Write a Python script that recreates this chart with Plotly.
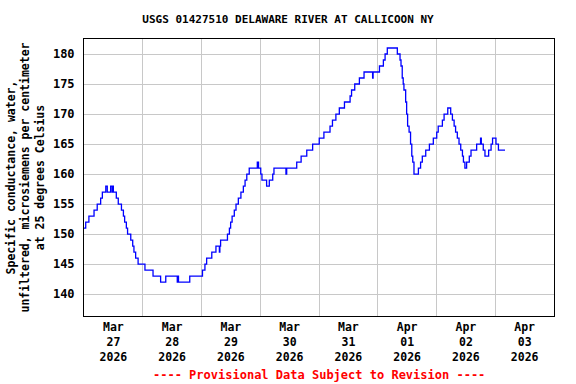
import pandas as pd
import plotly.graph_objects as go

# Change points: hours after 2026-03-27 00:00 and specific conductance value (uS/cm)
hours = [0, 0.7, 2.0, 4.1, 5.4, 6.8, 7.5, 8.9, 9.5, 10.9, 11.5, 11.8, 12.0,
         13.2, 14.0, 15.3, 16.1, 16.6, 17.3, 17.8, 19.1, 19.9, 20.4, 21.1, 22.1,
         24.9, 28.2, 31.3, 33.4, 38.1, 38.4, 38.6, 43.2, 48.4,
         49.4, 50.1, 52.2, 53.9, 55.3, 55.5, 55.8, 58.6, 59.4, 59.9, 60.5, 61.4,
         62.1, 63.05, 64.1, 65.1, 65.8, 66.5, 67.5, 70.8, 71.3, 72.2, 72.7, 74.6,
         75.7, 77.1, 77.6, 82.5, 82.8, 86.9, 88.7,
         91.0, 93.4, 96.1, 98.0, 100.5, 101.5, 102.9, 104.3, 106.4, 108.7, 109.3,
         110.6, 112.5, 114.4, 117.9, 118.1, 120.7, 122.3, 123.0, 123.9,
         128.0, 129.1, 129.5, 130.0, 130.4, 130.7, 131.4, 131.8, 132.2, 132.8,
         133.4, 133.9, 134.3, 134.8, 136.6, 137.5, 138.2, 139.6, 141.1, 142.7,
         144.1, 144.7, 146.4, 147.1, 148.6, 149.8, 150.5, 151.2, 151.8, 152.5,
         153.2, 153.9, 154.6, 155.0, 155.6, 156.3, 157.4, 158.1, 160.4, 162.0,
         162.3, 163.1, 163.8, 165.3, 166.3, 166.9, 168.3, 169.3, 172.0]
values = [151, 152, 153, 154, 155, 156, 157, 158, 157, 158, 157, 158, 157,
          156, 155, 154, 153, 152, 151, 150, 149, 148, 147, 146, 145,
          144, 143, 142, 143, 142, 143, 142, 143, 144,
          145, 146, 147, 148, 147, 148, 149, 150, 151, 152, 153, 154,
          155, 156, 157, 158, 159, 160, 161, 162, 161, 160, 159, 158,
          159, 160, 161, 160, 161, 162, 163,
          164, 165, 166, 167, 168, 169, 170, 171, 172, 173, 174,
          175, 176, 177, 176, 177, 178, 179, 180, 181,
          180, 179, 178, 176, 175, 174, 172, 170, 168, 167,
          165, 163, 162, 160, 161, 162, 163, 164, 165, 166,
          167, 168, 169, 170, 171, 170, 169, 168, 167, 166,
          165, 164, 163, 162, 161, 162, 163, 164, 165, 166,
          165, 164, 163, 164, 165, 166, 165, 164, 164]

start = pd.Timestamp("2026-03-27 00:00")
times = [start + pd.Timedelta(hours=h) for h in hours]

tick_days = ["2026-03-27", "2026-03-28", "2026-03-29", "2026-03-30",
             "2026-03-31", "2026-04-01", "2026-04-02", "2026-04-03"]
tick_labels = ["Mar<br>27<br>2026", "Mar<br>28<br>2026", "Mar<br>29<br>2026",
               "Mar<br>30<br>2026", "Mar<br>31<br>2026", "Apr<br>01<br>2026",
               "Apr<br>02<br>2026", "Apr<br>03<br>2026"]
y_ticks = [140, 145, 150, 155, 160, 165, 170, 175, 180]

title_text = "USGS 01427510 DELAWARE RIVER AT CALLICOON NY"
y_title = "Specific conductance, water,<br>unfiltered, microsiemens per centimeter<br>at 25 degrees Celsius"
footer = "---- Provisional Data Subject to Revision ----"

FONT = "DejaVu Sans Mono"

fig = go.Figure()
fig.add_trace(go.Scatter(x=times, y=values, mode="lines",
                         line=dict(color="#0000ff", width=1.3, shape="hv"),
                         hoverinfo="skip", showlegend=False))

tickvals = [pd.Timestamp(d) + pd.Timedelta(hours=12) for d in tick_days]

fig.update_layout(
    width=576, height=384,
    margin=dict(l=84, r=22, t=39, b=68),
    paper_bgcolor="white", plot_bgcolor="white",
    font=dict(family=FONT, size=11, color="black", weight="bold"),
    title=dict(text=title_text, x=0.5, xanchor="center", y=1 - 19 / 384, yanchor="middle",
               font=dict(family=FONT, size=11, color="black", weight="bold")),
    xaxis=dict(
        type="date",
        range=[start, start + pd.Timedelta(days=8)],
        tickmode="array", tickvals=tickvals, ticktext=tick_labels,
        showgrid=False, ticks="", ticklen=0,
        tickfont=dict(family=FONT, size=11.5, color="black", weight="bold"),
        showline=True, linecolor="black", linewidth=1, mirror=True,
        zeroline=False,
        minor=dict(tick0="2026-03-27", dtick=86400000, showgrid=True,
                   gridcolor="#c8c8c8", gridwidth=1, ticks=""),
    ),
    yaxis=dict(
        range=[136.35, 182.5],
        tickmode="array", tickvals=y_ticks,
        showgrid=True, gridcolor="#c8c8c8", gridwidth=1,
        ticks="outside", ticklen=6, tickcolor="rgba(0,0,0,0)",
        tickfont=dict(family=FONT, size=12, color="black", weight="bold"),
        showline=True, linecolor="black", linewidth=1, mirror=True,
        zeroline=False,
    ),
    annotations=[
        dict(text=y_title, xref="paper", yref="paper",
             x=(25 - 84) / 470, y=0.5, xanchor="center", yanchor="middle",
             textangle=-90, showarrow=False,
             font=dict(family=FONT, size=11.5, color="black", weight="bold")),
        dict(text=footer, xref="paper", yref="paper",
             x=0.5, y=-(375 - 316) / 277, xanchor="center", yanchor="middle",
             showarrow=False,
             font=dict(family=FONT, size=12, color="#ff0000", weight="bold")),
    ],
)

fig.write_html("out.html",
               config={"displayModeBar": False, "staticPlot": True},
               post_script="document.body.style.margin='0';document.body.style.padding='0';")
